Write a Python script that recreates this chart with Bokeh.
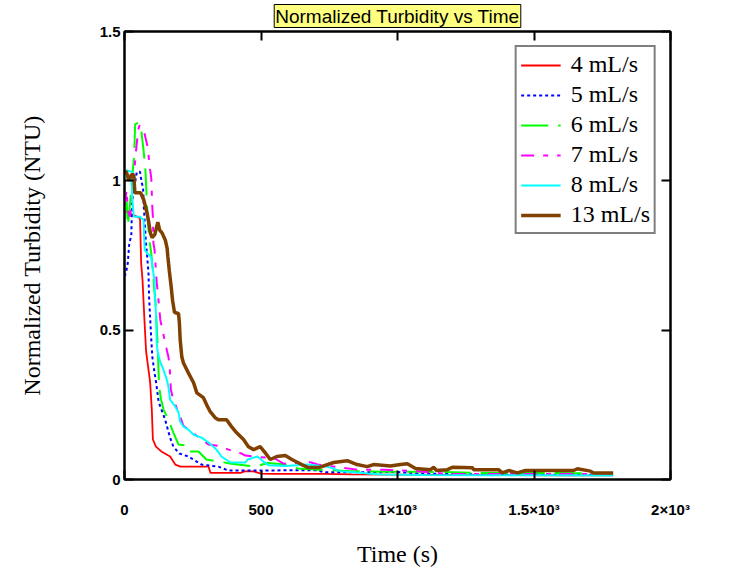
from bokeh.plotting import figure
from bokeh.models import (Range1d, FixedTicker, LinearAxis, Legend, LegendItem,
                          CustomLabelingPolicy)
from bokeh.embed import file_html
from bokeh.resources import INLINE

# ---------------- data ----------------
series_labels = ["4 mL/s", "5 mL/s", "6 mL/s", "7 mL/s", "8 mL/s", "13 mL/s"]

red_t = [0, 20, 45, 57, 58, 61, 66, 73, 79, 94,
         100, 104, 115, 135, 167, 186, 205, 308, 315, 425,
         440, 473, 500, 546, 729, 828, 1000, 1200, 1400, 1600,
         1790]
red_v = [0.90, 0.89, 0.88, 0.875, 0.835, 0.725, 0.668, 0.535, 0.43, 0.324,
         0.234, 0.134, 0.11, 0.094, 0.077, 0.05, 0.043, 0.043, 0.022, 0.022,
         0.027, 0.027, 0.02, 0.019, 0.019, 0.017, 0.016, 0.015, 0.015, 0.014,
         0.014]

blue_t = [0, 5, 12, 17, 25, 28, 40, 45, 57, 62,
          68, 71, 78, 82, 88, 90, 94, 98, 102, 110,
          116, 125, 149, 167, 179, 201, 234, 282, 344, 381,
          516, 600, 700, 736, 850, 1000, 1084, 1200, 1400, 1600,
          1790]
blue_v = [0.68, 0.69, 0.725, 0.785, 0.82, 0.935, 1.0, 1.03, 1.03, 1.0,
          0.975, 0.91, 0.8, 0.758, 0.69, 0.61, 0.54, 0.47, 0.41, 0.357,
          0.324, 0.26, 0.2, 0.14, 0.11, 0.087, 0.077, 0.05, 0.043, 0.03,
          0.03, 0.031, 0.031, 0.024, 0.024, 0.025, 0.02, 0.018, 0.017, 0.016,
          0.016]

green_t = [0, 8, 12, 18, 25, 33, 36, 39, 51, 60,
           70, 76, 78, 82, 88, 90, 98, 103, 109, 115,
           118, 122, 124, 127, 134, 143, 161, 179, 198, 234,
           240, 271, 300, 344, 392, 479, 524, 600, 634, 711,
           766, 828, 974, 1110, 1300, 1500, 1790]
green_v = [0.9, 0.93, 0.85, 0.9, 0.98, 1.06, 1.10, 1.19, 1.194, 1.18,
           1.10, 1.045, 1.01, 0.925, 0.835, 0.81, 0.758, 0.71, 0.635, 0.58,
           0.51, 0.445, 0.378, 0.31, 0.267, 0.234, 0.2, 0.157, 0.117, 0.113,
           0.094, 0.094, 0.067, 0.06, 0.053, 0.043, 0.055, 0.05, 0.037, 0.033,
           0.031, 0.028, 0.026, 0.026, 0.022, 0.022, 0.02]

magenta_t = [0, 8, 12, 20, 30, 40, 50, 55, 70, 78,
             83, 88, 94, 98, 100, 102, 104, 105, 106, 110,
             118, 122, 131, 137, 149, 161, 165, 170, 179, 198,
             216, 234, 308, 344, 381, 429, 443, 491, 546, 582,
             681, 707, 802, 853, 950, 1011, 1073, 1194, 1400, 1600,
             1790]
magenta_v = [0.92, 0.97, 0.9, 0.88, 0.95, 1.08, 1.17, 1.186, 1.17, 1.14,
             1.12, 1.086, 1.036, 1.01, 0.96, 0.91, 0.88, 0.835, 0.79, 0.77,
             0.66, 0.625, 0.535, 0.51, 0.457, 0.41, 0.384, 0.3, 0.267, 0.224,
             0.18, 0.167, 0.117, 0.113, 0.1, 0.087, 0.08, 0.075, 0.073, 0.053,
             0.058, 0.05, 0.039, 0.033, 0.033, 0.03, 0.028, 0.018, 0.018, 0.018,
             0.018]

cyan_t = [0, 8, 27, 28, 33, 35, 57, 61, 70, 72,
          74, 82, 98, 104, 110, 112, 116, 118, 122, 131,
          143, 155, 161, 167, 186, 198, 204, 216, 234, 253,
          282, 308, 337, 355, 388, 443, 451, 487, 509, 527,
          590, 670, 744, 791, 864, 890, 938, 1100, 1300, 1500,
          1790]
cyan_v = [1.0, 1.036, 1.03, 0.945, 0.89, 0.88, 0.88, 0.875, 0.87, 0.81,
          0.77, 0.758, 0.745, 0.70, 0.668, 0.61, 0.545, 0.457, 0.424, 0.394,
          0.367, 0.334, 0.31, 0.267, 0.244, 0.224, 0.194, 0.177, 0.167, 0.15,
          0.14, 0.124, 0.1, 0.077, 0.057, 0.057, 0.067, 0.077, 0.06, 0.048,
          0.045, 0.05, 0.043, 0.028, 0.023, 0.02, 0.017, 0.015, 0.014, 0.014,
          0.013]

brown_t = [0, 7, 16, 25, 34, 38, 59, 71, 83, 89,
           95, 101, 111, 122, 129, 138, 150, 156, 159, 164,
           171, 176, 183, 198, 201, 204, 210, 216, 234, 253,
           265, 289, 301, 314, 332, 344, 374, 392, 410, 436,
           454, 473, 497, 515, 534, 558, 589, 613, 649, 674,
           711, 766, 816, 852, 889, 912, 974, 1011, 1036, 1066,
           1121, 1132, 1143, 1183, 1201, 1275, 1278, 1370, 1384, 1407,
           1439, 1469, 1645, 1659, 1707, 1718, 1790]
brown_v = [1.03, 1.03, 1.0, 1.02, 1.02, 0.96, 0.96, 0.935, 0.89, 0.86,
           0.825, 0.81, 0.82, 0.862, 0.835, 0.825, 0.8, 0.775, 0.745, 0.7,
           0.645, 0.6, 0.56, 0.555, 0.525, 0.468, 0.41, 0.39, 0.357, 0.324,
           0.29, 0.274, 0.25, 0.227, 0.207, 0.2, 0.2, 0.177, 0.157, 0.134,
           0.11, 0.1, 0.11, 0.09, 0.067, 0.077, 0.08, 0.067, 0.05, 0.04,
           0.04, 0.057, 0.063, 0.05, 0.043, 0.05, 0.045, 0.05, 0.053, 0.037,
           0.033, 0.041, 0.03, 0.033, 0.041, 0.039, 0.033, 0.033, 0.022, 0.03,
           0.022, 0.03, 0.03, 0.036, 0.028, 0.022, 0.022]

x_ticks = [0, 500, 1000, 1500, 2000]
x_tick_labels = ["0", "500", "1\u00d710\u00b3", "1.5\u00d710\u00b3", "2\u00d710\u00b3"]
y_ticks = [0, 0.5, 1, 1.5]
y_tick_labels = ["0", "0.5", "1", "1.5"]

title_text = "Normalized Turbidity vs Time"
x_title = "Time (s)"
y_title = "Normalized Turbidity (NTU)"

# ---------------- figure ----------------
p = figure(width=714, height=569, output_backend="svg", toolbar_location=None,
           x_range=Range1d(0, 2000), y_range=Range1d(0, 1.5),
           min_border_left=124, min_border_right=44,
           min_border_top=31, min_border_bottom=89)
p.background_fill_color = "white"
p.border_fill_color = "white"
p.outline_line_color = "black"
p.outline_line_width = 2
p.xgrid.visible = False
p.ygrid.visible = False

# title: yellow box with black border
p.title.text = title_text
p.title.align = "center"
p.title.offset = -33
p.title.standoff = 0
p.title.text_font = "Liberation Sans"
p.title.text_font_style = "normal"
p.title.text_font_size = "19px"
p.title.text_color = "black"
p.title.background_fill_color = "#ffff80"
p.title.border_line_color = "black"
p.title.border_line_width = 1
p.title.padding = 1

tick_font = "Liberation Sans"
for ax, ticks, labels in ((p.xaxis[0], x_ticks, x_tick_labels), (p.yaxis[0], y_ticks, y_tick_labels)):
    ax.ticker = FixedTicker(ticks=ticks)
    ax.major_label_overrides = {t: l for t, l in zip(ticks, labels)}
    ax.major_tick_in = 9
    ax.major_tick_out = 0
    ax.minor_tick_in = 0
    ax.minor_tick_out = 0
    ax.major_tick_line_width = 2
    ax.axis_line_width = 2
    ax.major_label_text_font = tick_font
    ax.major_label_text_font_style = "bold"
    ax.major_label_text_font_size = "15px"
    ax.major_label_text_color = "black"
    ax.axis_label_text_font = "Liberation Serif"
    ax.axis_label_text_font_style = "normal"
    ax.axis_label_text_font_size = "24px"
    ax.axis_label_text_color = "black"

p.xaxis[0].axis_label = x_title
p.xaxis[0].major_label_standoff = 21
p.xaxis[0].axis_label_standoff = 20
p.yaxis[0].axis_label = y_title
p.yaxis[0].major_label_standoff = 4
p.yaxis[0].axis_label_standoff = 52

# mirrored axes (top/right): inward ticks only, no labels
for side, ticks in (("right", y_ticks), ("above", x_ticks)):
    ax = LinearAxis(ticker=FixedTicker(ticks=ticks))
    ax.major_label_policy = CustomLabelingPolicy(code="return []")
    ax.major_label_text_font_size = "1px"
    ax.major_label_standoff = 0
    ax.major_tick_in = 9
    ax.major_tick_out = 0
    ax.minor_tick_in = 0
    ax.minor_tick_out = 0
    ax.major_tick_line_width = 2
    ax.axis_line_width = 2
    p.add_layout(ax, side)

styles = [
    (red_t, red_v, "#ff0000", 1.8, "solid"),
    (blue_t, blue_v, "#0000ff", 2, "3 3"),
    (green_t, green_v, "#00ff00", 2, "27 10"),
    (magenta_t, magenta_v, "#ff00ff", 2, "13 9 5 9"),
    (cyan_t, cyan_v, "#00ffff", 2, "solid"),
    (brown_t, brown_v, "#804000", 3.5, "solid"),
]
items = []
for (t, v, c, w, d), lab in zip(styles, series_labels):
    r = p.line(t, v, line_color=c, line_width=w, line_dash=d)
    items.append(LegendItem(label=lab, renderers=[r]))

legend = Legend(items=items, location="top_right", margin=14, padding=4, spacing=3,
                glyph_width=40, glyph_height=20, label_standoff=10,
                border_line_color="black", border_line_width=2,
                background_fill_color="white", background_fill_alpha=1)
legend.label_text_font = "Liberation Serif"
legend.label_text_font_style = "normal"
legend.label_text_font_size = "24px"
legend.label_text_color = "black"
p.add_layout(legend)

open("out.html", "w").write(file_html(p, INLINE))
